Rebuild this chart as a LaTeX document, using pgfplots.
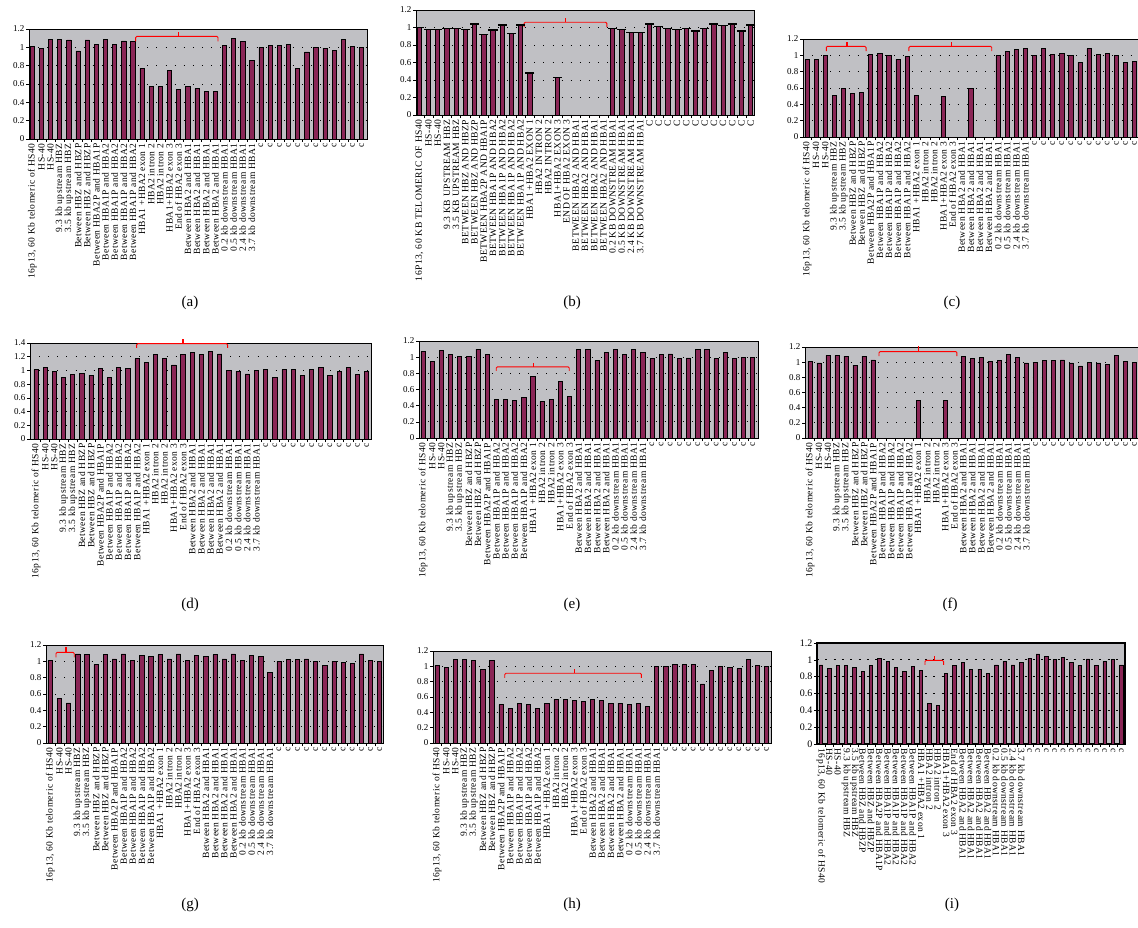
\documentclass[border=0pt]{standalone}
\usepackage{fontspec}
\setmainfont{Liberation Serif}
\newfontfamily\labfam[LetterSpace=4.5]{Liberation Serif}
\usepackage{pgfplots}
\usepackage{pgfplotstable}
\pgfplotsset{compat=1.18}
\definecolor{plotgray}{RGB}{192,192,196}
\definecolor{barcol}{RGB}{138,38,86}
\newcommand\labfont{\labfam\fontsize{9.5}{10}\selectfont}
\newcommand\upfont{\labfam\fontsize{9.6}{10}\selectfont}
\newcommand\tickfont{\fontsize{9}{10}\selectfont}
\newcommand\capfont{\fontsize{15}{17}\selectfont}

\pgfplotstableread{
x a b c d e f g h i
1 1.01 1.00 0.95 1.01 1.07 1.01 1.01 1.01 0.94
2 0.99 0.98 0.95 1.04 0.95 0.99 0.55 0.99 0.90
3 1.09 0.98 1.00 0.98 1.08 1.09 0.49 1.09 0.93
4 1.09 0.99 0.51 0.90 1.03 1.09 1.09 1.09 0.93
5 1.08 0.99 0.60 0.94 1.01 1.08 1.08 1.08 0.91
6 0.96 0.98 0.53 0.96 1.01 0.96 0.96 0.96 0.86
7 1.08 1.04 0.55 0.93 1.10 1.08 1.08 1.08 0.93
8 1.03 0.92 1.01 1.03 1.03 1.03 1.03 0.50 1.02
9 1.09 0.97 1.02 0.90 0.48 0 1.09 0.45 0.98
10 1.03 1.03 1.00 1.04 0.48 0 1.01 0.52 0.91
11 1.07 0.93 0.95 1.03 0.47 0 1.07 0.50 0.86
12 1.06 1.03 0.99 1.17 0.50 0 1.06 0.45 0.92
13 0.77 0.48 0.51 1.12 0.76 0.50 1.08 0.52 0.87
14 0.57 0 0 1.23 0.45 0 1.03 0.57 0.48
15 0.57 0 0 1.18 0.48 0 1.09 0.57 0.46
16 0.75 0.43 0.50 1.08 0.70 0.50 1.01 0.56 0.84
17 0.54 0 0 1.23 0.51 0 1.07 0.54 0.93
18 0.57 0 0 1.26 1.10 1.08 1.06 0.57 0.97
19 0.55 0 0.60 1.23 1.10 1.05 1.08 0.55 0.89
20 0.52 0 0 1.28 0.96 1.06 1.03 0.52 0.89
21 0.52 0 0 1.24 1.06 1.01 1.09 0.52 0.84
22 1.02 0.99 1.00 1.00 1.10 1.02 1.01 0.50 0.94
23 1.10 0.98 1.05 0.99 1.03 1.10 1.07 0.52 0.98
24 1.06 0.94 1.07 0.95 1.10 1.06 1.06 0.48 0.94
25 0.86 0.94 1.08 1.00 1.06 0.99 0.86 1.00 0.97
26 1.00 1.04 1.00 1.01 0.98 1.00 1.00 1.00 1.02
27 1.02 1.01 1.08 0.90 1.03 1.02 1.02 1.02 1.07
28 1.02 0.99 1.01 1.01 1.04 1.02 1.02 1.02 1.04
29 1.03 0.98 1.02 1.01 0.98 1.03 1.03 1.03 1.00
30 0.77 0.99 1.00 0.93 0.99 0.99 1.00 0.77 1.03
31 0.95 0.96 0.91 1.02 1.10 0.95 0.95 0.95 0.97
32 1.00 0.99 1.08 1.04 1.10 1.00 1.00 1.00 0.93
33 0.99 1.04 1.01 0.93 0.98 0.99 0.99 0.99 1.01
34 0.97 1.02 1.02 0.98 1.06 0.97 0.97 0.97 0.93
35 1.09 1.04 1.00 1.05 0.98 1.09 1.09 1.09 0.98
36 1.01 0.96 0.91 0.94 1.00 1.01 1.01 1.01 1.00
37 1.00 1.03 0.93 0.99 1.00 1.00 1.00 1.00 0.94
}\data

\pgfplotsset{
  panel/.style={
    scale only axis, anchor=north west, clip=false,
    ymin=0, ymax=1.2, ytick={0,0.2,0.4,0.6,0.8,1,1.2},
    xtick={1,...,37}, minor xtick={1.5,2.5,...,36.5},
    tick pos=left, tick align=outside,
    major tick length=3pt, minor tick length=3pt,
    every major x tick/.append style={draw=none},
    tick style={black, line width=0.6pt},
    axis background/.style={fill=plotgray},
    axis line style={black, line width=0.8pt},
    ymajorgrids,
    major grid style={black, line width=0.7pt, dash pattern=on 0.8pt off 8.3pt},
    /pgf/number format/assume math mode=true,
    yticklabel style={font=\tickfont, inner sep=1.5pt},
  },
  uprot/.style={every x tick label/.style={rotate=90, anchor=east, font=\labfont, inner sep=1.5pt}},
  downrot/.style={every x tick label/.style={rotate=-90, anchor=west, font=\labfont, inner sep=1.5pt}},
  lowlabels/.style={xticklabels={{16p13, 60 Kb telomeric of HS40},HS-40,HS-40,9.3 kb upstream HBZ,3.5 kb upstream HBZ,Between HBZ and HBZP,Between HBZ and HBZP,Between HBA2P and HBA1P,Between HBA1P and HBA2,Between HBA1P and HBA2,Between HBA1P and HBA2,Between HBA1P and HBA2,HBA1 +HBA2 exon 1,HBA2 intron 2,HBA2 intron 2,HBA1+HBA2 exon 3,End of HBA2 exon 3,Between HBA2 and HBA1,Between HBA2 and HBA1,Between HBA2 and HBA1,Between HBA2 and HBA1,0.2 kb downstream HBA1,0.5 kb downstream HBA1,2.4 kb downstream HBA1,3.7 kb downstream HBA1,c,c,c,c,c,c,c,c,c,c,c,c}},
  uplabels/.style={xticklabels={{16P13, 60 KB TELOMERIC OF HS40},HS-40,HS-40,9.3 KB UPSTREAM HBZ,3.5 KB UPSTREAM HBZ,BETWEEN HBZ AND HBZP,BETWEEN HBZ AND HBZP,BETWEEN HBA2P AND HBA1P,BETWEEN HBA1P AND HBA2,BETWEEN HBA1P AND HBA2,BETWEEN HBA1P AND HBA2,BETWEEN HBA1P AND HBA2,HBA1 +HBA2 EXON 1,HBA2 INTRON 2,HBA2 INTRON 2,HBA1+HBA2 EXON 3,END OF HBA2 EXON 3,BETWEEN HBA2 AND HBA1,BETWEEN HBA2 AND HBA1,BETWEEN HBA2 AND HBA1,BETWEEN HBA2 AND HBA1,0.2 KB DOWNSTREAM HBA1,0.5 KB DOWNSTREAM HBA1,2.4 KB DOWNSTREAM HBA1,3.7 KB DOWNSTREAM HBA1,C,C,C,C,C,C,C,C,C,C,C,C}},
  bars/.style={ybar, bar width=0.46, fill=barcol, draw=black, line width=0.7pt},
}
\newcommand\brk[6]{%
  \draw[red, line width=0.9pt, rounded corners=1.2pt] (axis cs:#1,#4) |- (axis cs:#2,#5) -- (axis cs:#2,#4);
  \draw[red, line width=1.3pt] (axis cs:#3,#5) -- (axis cs:#3,#6);}

\begin{document}
\begin{tikzpicture}
\useasboundingbox (0,0) rectangle (1138pt,-928pt);
\fill[white] (0,0) rectangle (1138pt,-928pt);

% (a)
\begin{axis}[panel, uprot, lowlabels, at={(29pt,-29pt)}, width=338pt, height=110pt, xmin=0.64, xmax=37.58]
\addplot[bars] table[x=x,y=a]{\data};
\brk{12.3}{21.3}{16.96}{1.065}{1.12}{1.165}
\end{axis}

% (b)
\begin{axis}[panel, uprot, uplabels, x tick label style={font=\upfont}, at={(416pt,-10pt)}, width=338pt, height=105pt, xmin=0.64, xmax=37.36]
\addplot[bars] table[x=x,y=b]{\data};
\addplot[only marks, mark=-, mark size=4.6pt, mark options={line width=1.3pt, black}, restrict y to domain=0.01:2] table[x=x,y=b]{\data};
\brk{12.38}{21.37}{16.9}{1.005}{1.06}{1.11}
\end{axis}

% (c)
\begin{axis}[panel, uprot, lowlabels, at={(803pt,-39pt)}, width=337pt, height=98pt, xmin=0.56, xmax=37.6]
\addplot[bars] table[x=x,y=c]{\data};
\brk{3.12}{7.5}{5.4}{1.05}{1.11}{1.165}
\brk{12.2}{21.3}{16.9}{1.05}{1.11}{1.165}
\end{axis}

% (d)
\begin{axis}[panel, uprot, lowlabels, at={(30pt,-343pt)}, width=341pt, height=96pt, xmin=0.35, xmax=37.47, ymax=1.4, ytick={0,0.2,0.4,0.6,0.8,1,1.2,1.4}]
\addplot[bars] table[x=x,y=d]{\data};
\brk{11.96}{21.86}{17.0}{1.33}{1.39}{1.46}
\end{axis}

% (e)
\begin{axis}[panel, uprot, lowlabels, at={(419pt,-341pt)}, width=339pt, height=97pt, xmin=0.56, xmax=37.58]
\addplot[bars] table[x=x,y=e]{\data};
\brk{8.99}{16.97}{13.07}{0.83}{0.88}{0.93}
\end{axis}

% (f)
\begin{axis}[panel, uprot, lowlabels, at={(805pt,-347pt)}, width=334pt, height=91pt, xmin=0.45, xmax=37.5]
\addplot[bars] table[x=x,y=f]{\data};
\brk{8.66}{17.3}{13.06}{1.08}{1.14}{1.21}
\end{axis}

% (g)
\begin{axis}[panel, uprot, lowlabels, at={(46pt,-645pt)}, width=337pt, height=98pt, xmin=0.53, xmax=37.36]
\addplot[bars] table[x=x,y=g]{\data};
\brk{1.62}{3.62}{2.7}{1.05}{1.11}{1.17}
\end{axis}

% (h)
\begin{axis}[panel, uprot, lowlabels, at={(433pt,-651pt)}, width=338pt, height=92pt, xmin=0.56, xmax=37.5]
\addplot[bars] table[x=x,y=h]{\data};
\brk{8.4}{23.33}{16.0}{0.85}{0.91}{0.97}
\end{axis}

% (i)
\begin{axis}[panel, downrot, lowlabels, at={(817pt,-643pt)}, width=308pt, height=101pt, xmin=0.52, xmax=37.44,
  axis line style={black, line width=1.4pt},
  major grid style={black, line width=0.7pt, dash pattern=on 2pt off 6.3pt},
  yticklabel style={font=\fontsize{10}{11}\selectfont}]
\addplot[bars, bar width=0.4] table[x=x,y=i]{\data};
\brk{13.47}{15.7}{14.58}{0.94}{0.994}{1.05}
\end{axis}

\node[font=\capfont] at (190pt,-303pt) {(a)};
\node[font=\capfont] at (572pt,-303pt) {(b)};
\node[font=\capfont] at (952pt,-303pt) {(c)};
\node[font=\capfont] at (190pt,-605pt) {(d)};
\node[font=\capfont] at (572pt,-605pt) {(e)};
\node[font=\capfont] at (950pt,-605pt) {(f)};
\node[font=\capfont] at (190pt,-905pt) {(g)};
\node[font=\capfont] at (572pt,-905pt) {(h)};
\node[font=\capfont] at (952pt,-905pt) {(i)};
\end{tikzpicture}
\end{document}
